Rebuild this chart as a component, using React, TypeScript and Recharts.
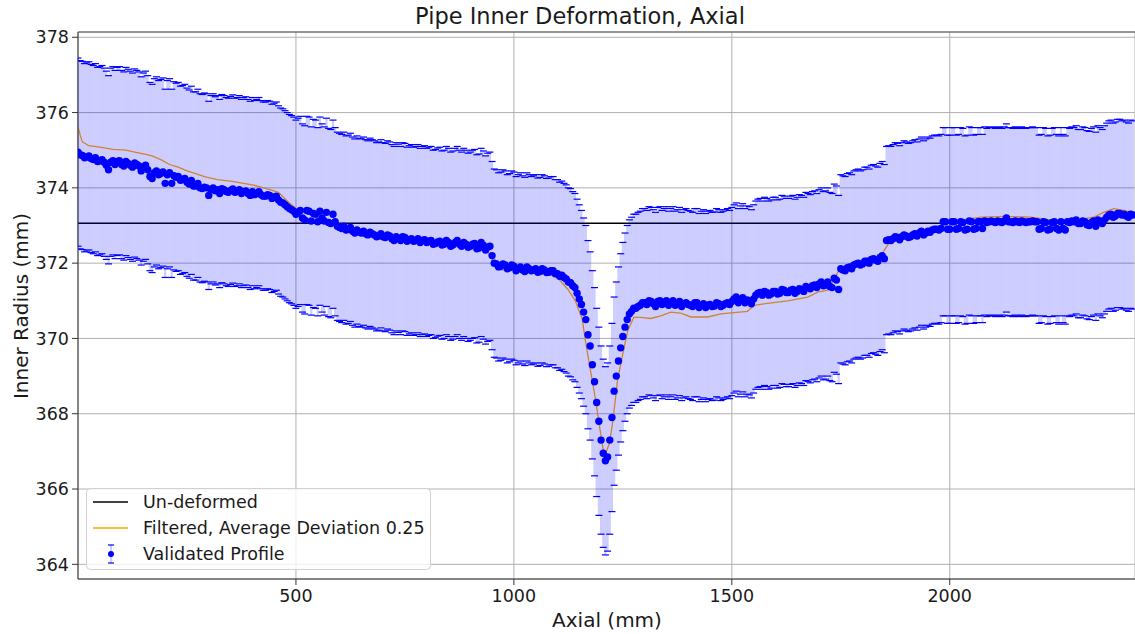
import { ComposedChart, XAxis, YAxis, CartesianGrid, Scatter, ErrorBar, Line, ReferenceLine, Legend } from 'recharts'

// validated profile: row A sampled at x = 0, 10, 20 ... and row B at x = 5, 15, 25 ... (mm)
const STEP = 10
const PROFILE_A = [
    374.95, 374.86, 374.82, 374.78, 374.8, 374.72, 374.68, 374.48, 374.72, 374.7,
    374.62, 374.7, 374.6, 374.66, 374.58, 374.55, 374.48, 374.25, 374.45, 374.38,
    374.12, 374.4, 374.32, 374.3, 374.22, 374.15, 374.2, 374.05, 374.0, 374.02,
    373.8, 374.0, 373.95, 373.98, 373.9, 373.93, 373.88, 373.95, 373.9, 373.85,
    373.9, 373.85, 373.82, 373.78, 373.8, 373.75, 373.68, 373.6, 373.5, 373.42,
    373.3, 373.4, 373.15, 373.38, 373.32, 373.1, 373.2, 373.35, 373.05, 373.1,
    372.95, 372.98, 372.9, 372.85, 372.88, 372.8, 372.78, 372.82, 372.75, 372.72,
    372.7, 372.75, 372.65, 372.7, 372.6, 372.68, 372.62, 372.58, 372.65, 372.6,
    372.55, 372.6, 372.52, 372.58, 372.5, 372.55, 372.48, 372.6, 372.45, 372.5,
    372.45, 372.52, 372.4, 372.48, 372.42, 372.2, 371.98, 371.92, 371.95, 371.88,
    371.92, 371.85, 371.82, 371.9, 371.8, 371.85, 371.78, 371.82, 371.76, 371.8,
    371.72, 371.68, 371.58, 371.48, 371.35, 371.05, 370.7, 370.1, 369.3, 368.3,
    367.3, 366.75, 367.3, 368.6, 369.4, 370.05, 370.5, 370.72, 370.8, 370.88,
    370.95, 371.0, 370.92, 370.98, 370.9, 371.0, 370.95, 370.88, 370.98, 370.92,
    370.9, 370.85, 370.95, 370.88, 370.82, 370.9, 370.86, 370.92, 370.88, 370.95,
    370.98, 371.1, 371.02, 370.95, 371.0, 371.05, 371.2, 371.15, 371.22, 371.18,
    371.25, 371.2, 371.28, 371.22, 371.3, 371.25, 371.3, 371.38, 371.32, 371.42,
    371.45, 371.4, 371.5, 371.35, 371.55, 371.85, 371.8, 371.9, 371.95, 372.0,
    371.98, 372.05, 372.1, 372.08, 372.15, 372.12, 372.62, 372.65, 372.68, 372.7,
    372.72, 372.7, 372.78, 372.8, 372.75, 372.85, 372.88, 372.9, 372.92, 373.1,
    372.9, 373.1, 372.92, 373.08, 372.9, 373.1, 372.92, 373.1, 373.12, 373.1,
    373.1, 373.12, 373.08, 373.2, 373.1, 373.12, 373.08, 373.1, 373.1, 373.12,
    373.1, 372.92, 373.08, 372.9, 373.1, 372.88, 372.92, 373.1, 373.12, 373.15,
    373.05, 373.1, 373.0, 373.12, 373.15, 373.05, 373.22, 373.3, 373.25, 373.32,
    373.3, 373.22, 373.28,
]
const PROFILE_B = [
    374.88, 374.8, 374.85, 374.75, 374.7, 374.75, 374.6, 374.68, 374.62, 374.72,
    374.58, 374.65, 374.55, 374.62, 374.45, 374.6, 374.3, 374.4, 374.35, 374.42,
    374.35, 374.12, 374.28, 374.2, 374.25, 374.1, 374.05, 374.12, 373.98, 374.0,
    373.95, 373.92, 373.85, 373.95, 373.88, 373.97, 373.9, 373.85, 373.92, 373.8,
    373.82, 373.9, 373.78, 373.82, 373.72, 373.78, 373.62, 373.55, 373.45, 373.38,
    373.35, 373.2, 373.4, 373.12, 373.3, 373.38, 373.12, 373.08, 373.3, 372.98,
    372.92, 372.88, 372.95, 372.8, 372.82, 372.85, 372.75, 372.78, 372.7, 372.78,
    372.68, 372.72, 372.6, 372.66, 372.7, 372.58, 372.65, 372.6, 372.55, 372.62,
    372.58, 372.5, 372.56, 372.48, 372.6, 372.45, 372.55, 372.5, 372.55, 372.42,
    372.5, 372.38, 372.55, 372.35, 372.45, 372.0, 371.9, 371.98, 371.85, 371.95,
    371.8, 371.9, 371.78, 371.85, 371.82, 371.76, 371.85, 371.75, 371.8, 371.72,
    371.65, 371.62, 371.5, 371.4, 371.2, 370.9, 370.5, 369.8, 368.85, 367.8,
    366.95, 366.85, 367.9, 369.0, 369.75, 370.3, 370.65, 370.8, 370.85, 370.95,
    370.9, 370.98, 370.85, 371.0, 370.95, 370.88, 371.0, 370.92, 370.85, 370.95,
    370.88, 370.95, 370.82, 370.92, 370.88, 370.85, 370.95, 370.85, 370.92, 370.9,
    371.05, 370.95, 371.08, 371.02, 370.92, 371.15, 371.22, 371.25, 371.15, 371.25,
    371.18, 371.3, 371.22, 371.28, 371.2, 371.32, 371.25, 371.35, 371.4, 371.35,
    371.5, 371.42, 371.38, 371.6, 371.3, 371.82, 371.88, 371.85, 371.98, 371.95,
    372.05, 372.0, 372.12, 372.05, 372.2, 372.6, 372.6, 372.7, 372.62, 372.75,
    372.68, 372.75, 372.72, 372.85, 372.8, 372.82, 372.9, 372.88, 373.1, 372.9,
    373.1, 372.9, 373.1, 372.88, 373.12, 372.9, 373.1, 372.92, 373.08, 373.12,
    373.08, 373.1, 373.12, 373.1, 373.08, 373.1, 373.12, 373.08, 373.1, 373.1,
    372.9, 373.1, 372.88, 373.08, 372.92, 373.1, 372.88, 373.08, 373.1, 373.05,
    373.12, 373.02, 373.08, 372.98, 373.1, 373.15, 373.28, 373.22, 373.32, 373.28,
    373.25, 373.3,
]

const FILT_X = [
    0, 5, 10, 25, 50, 80, 110, 130, 150, 170, 190, 210, 230, 250, 270, 290, 320, 350, 380, 400,
    420, 440, 460, 480, 500, 530, 560, 590, 620, 660, 700, 750, 800, 850, 900, 935, 950, 970, 1000, 1040,
    1080, 1100, 1124, 1141, 1157, 1164, 1175, 1187, 1198, 1205, 1211, 1219, 1227, 1238, 1250, 1261, 1275, 1291, 1314, 1337,
    1360, 1383, 1406, 1445, 1475, 1536, 1551, 1582, 1628, 1674, 1697, 1720, 1734, 1745, 1766, 1812, 1842, 1853, 1865, 1918,
    1964, 1994, 2030, 2071, 2132, 2186, 2224, 2262, 2300, 2330, 2353, 2376, 2399, 2425,
]
const FILT_Y = [
    375.62, 375.4, 375.22, 375.12, 375.08, 375.02, 375.0, 374.95, 374.9, 374.85, 374.75, 374.62, 374.55, 374.45, 374.38, 374.3, 374.22, 374.18, 374.12, 374.08,
    374.02, 373.95, 373.88, 373.65, 373.45, 373.3, 373.18, 373.05, 372.95, 372.85, 372.75, 372.68, 372.6, 372.55, 372.5, 372.42, 372.1, 371.82, 371.8, 371.75,
    371.7, 371.62, 371.3, 371.0, 370.5, 369.95, 369.2, 368.4, 367.55, 367.05, 366.97, 367.2, 367.8, 368.9, 369.6, 370.2, 370.56, 370.56, 370.53, 370.6,
    370.7, 370.67, 370.57, 370.57, 370.65, 370.72, 370.88, 370.93, 371.0, 371.1, 371.23, 371.28, 371.55, 371.8, 371.95, 372.08, 372.2, 372.4, 372.6, 372.74,
    372.93, 373.06, 373.15, 373.22, 373.24, 373.22, 373.16, 373.11, 373.16, 373.22, 373.35, 373.45, 373.4, 373.33,
]

const ERR = 2.5
const UNDEFORMED = 373.06
const X_TICKS = [500, 1000, 1500, 2000]
const Y_TICKS = [364, 366, 368, 370, 372, 374, 376, 378]
const X_DOMAIN = [0, 2425]
const Y_DOMAIN = [363.61, 378.14]

const FONT = '"DejaVu Sans", sans-serif'
const BLUE = '#0000ff'
const INK = '#1a1a1a'

const rowA = PROFILE_A.map((y, i) => ({ x: i * STEP, y }))
const rowB = PROFILE_B.map((y, i) => ({ x: i * STEP + STEP / 2, y }))
const points = [...rowA, ...rowB]
    .sort((a, b) => a.x - b.x)
    .map(p => ({ ...p, hi: p.y + ERR, lo: p.y - ERR, err: ERR }))
const filtered = FILT_X.map((x, i) => ({ x, f: FILT_Y[i] }))

const Dot = (p: any) => <circle cx={p.cx} cy={p.cy} r={3.7} fill={BLUE} />
const Cap = (p: any) => (
    <line x1={p.cx - 3.5} x2={p.cx + 3.5} y1={p.cy} y2={p.cy} stroke={BLUE} strokeWidth={1.2} />
)

function LegendBox() {
    return (
        <svg width={345} height={82} style={{ display: 'block' }}>
            <rect x={0.5} y={0.5} width={344} height={81} rx={4} fill="#fff" fillOpacity={0.8} stroke="#d0d0d0" />
            <line x1={7} x2={42} y1={14} y2={14} stroke="#000" strokeWidth={1.5} />
            <line x1={7} x2={42} y1={40} y2={40} stroke="#ffa500" strokeWidth={1.5} />
            <line x1={25} x2={25} y1={57} y2={75} stroke={BLUE} strokeOpacity={0.2} strokeWidth={2} />
            <line x1={22} x2={28} y1={57} y2={57} stroke={BLUE} strokeWidth={1.2} />
            <line x1={22} x2={28} y1={75} y2={75} stroke={BLUE} strokeWidth={1.2} />
            <circle cx={25} cy={66} r={3} fill={BLUE} />
            <g fontFamily={FONT} fontSize={17.5} fill={INK}>
                <text x={57} y={20}>Un-deformed</text>
                <text x={57} y={46}>Filtered, Average Deviation 0.25</text>
                <text x={57} y={72}>Validated Profile</text>
            </g>
        </svg>
    )
}

export default function App() {
    const tick = { fontFamily: FONT, fontSize: 17.5, fill: INK }
    return (
        <div style={{ width: 1135, height: 634, position: 'relative' }}>
            <style>{'body{margin:0}'}</style>
            <ComposedChart width={1135} height={634} margin={{ top: 32, right: 0, bottom: 0, left: 0 }}>
                <CartesianGrid stroke="#b0b0b0" strokeWidth={1} />
                <XAxis
                    type="number"
                    dataKey="x"
                    domain={X_DOMAIN}
                    ticks={X_TICKS}
                    allowDataOverflow
                    height={55}
                    tick={tick}
                    tickSize={6}
                    tickMargin={5}
                    axisLine={{ stroke: '#333' }}
                    tickLine={{ stroke: '#333' }}
                />
                <YAxis
                    type="number"
                    domain={Y_DOMAIN}
                    ticks={Y_TICKS}
                    allowDataOverflow
                    width={78}
                    tick={tick}
                    tickSize={6}
                    tickMargin={3}
                    axisLine={{ stroke: '#333' }}
                    tickLine={{ stroke: '#333' }}
                />
                <ReferenceLine y={Y_DOMAIN[1]} stroke="#555" strokeWidth={1} />
                <Line data={filtered} dataKey="f" stroke="#ffa500" strokeWidth={1.3} dot={false} isAnimationActive={false} />
                <ReferenceLine y={UNDEFORMED} stroke="#000" strokeWidth={1.5} />
                <Scatter data={points} dataKey="y" shape={Dot} isAnimationActive={false}>
                    <ErrorBar dataKey="err" direction="y" width={0} stroke={BLUE} strokeOpacity={0.2} strokeWidth={2.18} isAnimationActive={false} />
                </Scatter>
                <Scatter data={points} dataKey="hi" shape={Cap} isAnimationActive={false} />
                <Scatter data={points} dataKey="lo" shape={Cap} isAnimationActive={false} />
                <Legend
                    layout="vertical"
                    align="center"
                    verticalAlign="middle"
                    wrapperStyle={{ position: 'absolute', left: 86, top: 488, width: 345, height: 82, margin: 0 }}
                    content={() => <LegendBox />}
                />
                <text x={580} y={24} textAnchor="middle" fontFamily={FONT} fontSize={22.5} fill={INK}>
                    Pipe Inner Deformation, Axial
                </text>
                <text x={607} y={627} textAnchor="middle" fontFamily={FONT} fontSize={20} fill={INK}>
                    Axial (mm)
                </text>
                <text x={28} y={306} textAnchor="middle" fontFamily={FONT} fontSize={20} fill={INK} transform="rotate(-90 28 306)">
                    Inner Radius (mm)
                </text>
            </ComposedChart>
        </div>
    )
}
